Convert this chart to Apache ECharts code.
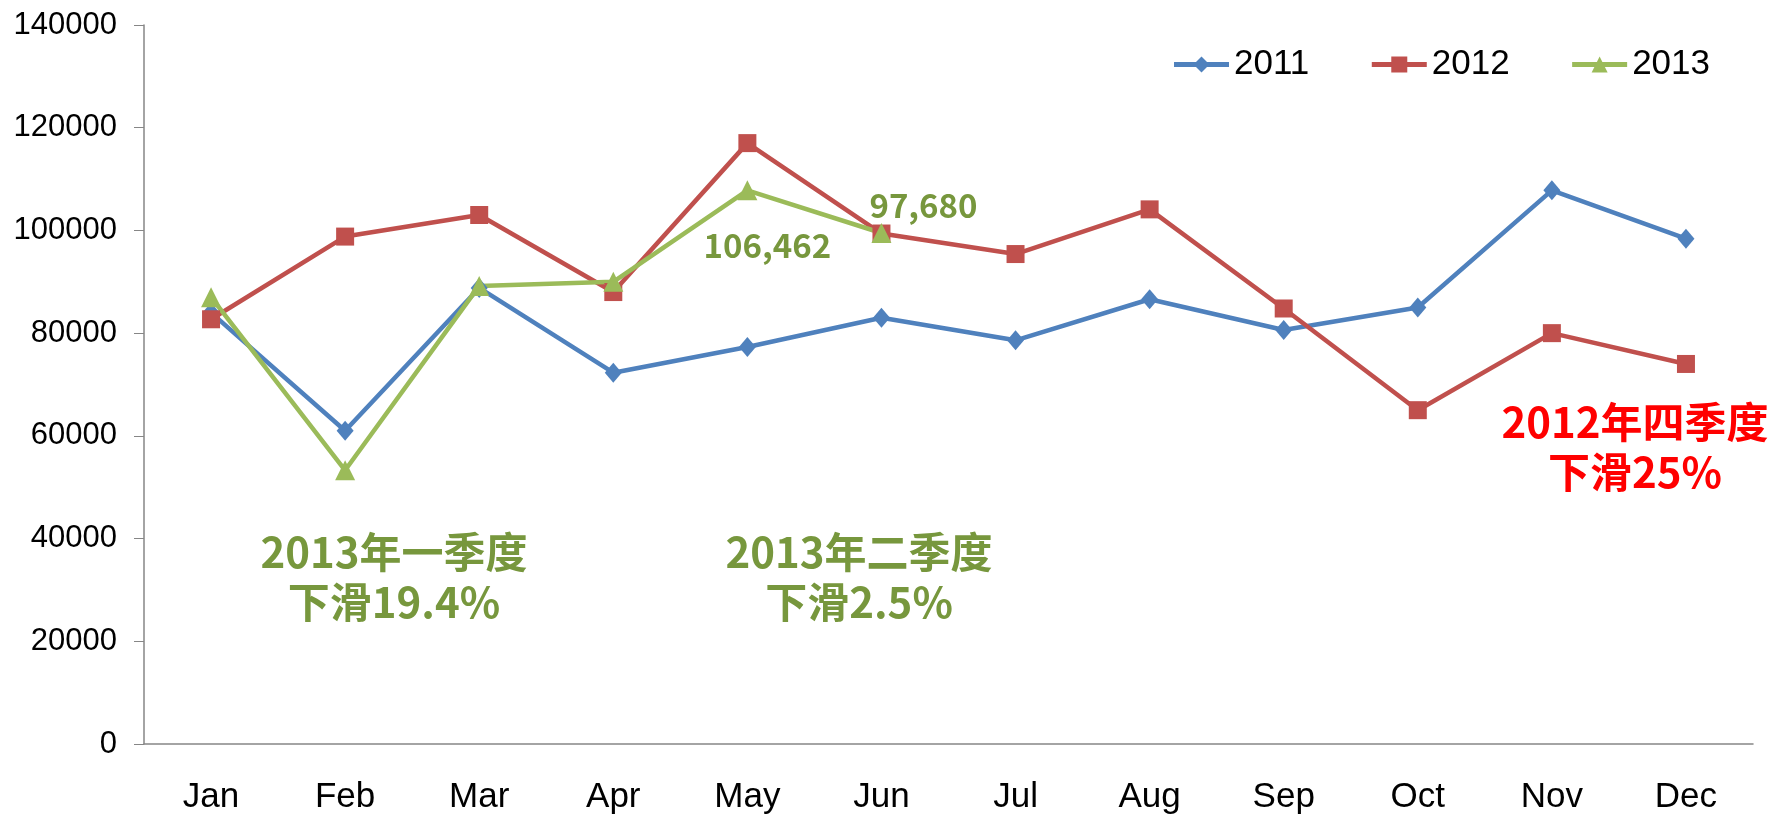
<!DOCTYPE html>
<html>
<head>
<meta charset="utf-8">
<script src="https://cdn.jsdelivr.net/npm/echarts@6/dist/echarts.min.js"></script>
<style>
  html, body { margin: 0; padding: 0; background: #fff; }
  #chart { width: 1775px; height: 817px; }
</style>
</head>
<body>
<div id="chart"></div>
<script>
// 月份
var months = ['Jan', 'Feb', 'Mar', 'Apr', 'May', 'Jun', 'Jul', 'Aug', 'Sep', 'Oct', 'Nov', 'Dec'];
// 各年数据
var y2011 = [84000, 61000, 88800, 72300, 77300, 83000, 78600, 86600, 80600, 85000, 107800, 98400];
var y2012 = [82700, 98800, 103000, 88000, 117000, 99400, 95400, 104100, 84800, 65000, 80000, 74000];
var y2013 = [87000, 53300, 89200, 90000, 107800, 99500];
// 数据标签 (May, Jun)
var labels2013 = { 4: '106,462', 5: '97,680' };
// 注释文字
var notes = [
  { text: '2013年一季度\n下滑19.4%', x: 394, y: 577, color: '#77973d' },
  { text: '2013年二季度\n下滑2.5%', x: 859, y: 577, color: '#77973d' },
  { text: '2012年四季度\n下滑25%', x: 1635, y: 447, color: '#ff0000' }
];

var chart = echarts.init(document.getElementById('chart'));

var green = y2013.map(function (v, i) {
  var d = { value: v };
  if (labels2013[i]) {
    d.label = {
      show: true,
      formatter: labels2013[i],
      position: i === 4 ? 'bottom' : 'top',
      offset: i === 4 ? [20, 24] : [42, 4],
      color: '#77973d',
      fontSize: 33,
      fontWeight: 'bold',
      fontFamily: 'Noto Sans CJK SC'
    };
  }
  return d;
});

var option = {
  animation: false,
  grid: { left: 144, right: 22, top: 25, bottom: 73 },
  legend: {
    top: 42,
    right: 60,
    itemWidth: 55,
    itemHeight: 20,
    itemGap: 60,
    lineStyle: { width: 5 },
    textStyle: { fontSize: 35, color: '#000', fontFamily: 'Liberation Sans' },
    data: ['2011', '2012', '2013']
  },
  xAxis: {
    type: 'category',
    data: months,
    boundaryGap: true,
    axisLine: { lineStyle: { color: '#868686', width: 1.5 } },
    axisTick: { length: 12, lineStyle: { color: '#868686' } },
    axisLabel: {
      margin: 36,
      fontSize: 35,
      color: '#000',
      fontFamily: 'Liberation Sans'
    }
  },
  yAxis: {
    type: 'value',
    min: 0,
    max: 140000,
    interval: 20000,
    splitLine: { show: false },
    axisLine: { show: true, lineStyle: { color: '#868686', width: 1.5 } },
    axisTick: { show: true, length: 10, lineStyle: { color: '#868686' } },
    axisLabel: {
      margin: 27,
      fontSize: 31,
      color: '#000',
      fontFamily: 'Liberation Sans',
      formatter: function (v) { return String(v); }
    }
  },
  series: [
    {
      name: '2011',
      type: 'line',
      data: y2011,
      symbol: 'diamond',
      symbolSize: [17, 20],
      color: '#4f81bd',
      lineStyle: { width: 4.5 }
    },
    {
      name: '2012',
      type: 'line',
      data: y2012,
      symbol: 'rect',
      symbolSize: 18,
      color: '#c0504d',
      lineStyle: { width: 4.5 }
    },
    {
      name: '2013',
      type: 'line',
      data: green,
      symbol: 'triangle',
      symbolSize: 20,
      color: '#9bbb59',
      lineStyle: { width: 4.5 }
    }
  ],
  graphic: notes.map(function (n) {
    return {
      type: 'text',
      x: n.x,
      y: n.y,
      style: {
        text: n.text,
        fill: n.color,
        font: 'bold 42px "Noto Sans CJK SC"',
        align: 'center',
        verticalAlign: 'middle',
        lineHeight: 50
      }
    };
  })
};

chart.setOption(option);
</script>
</body>
</html>
